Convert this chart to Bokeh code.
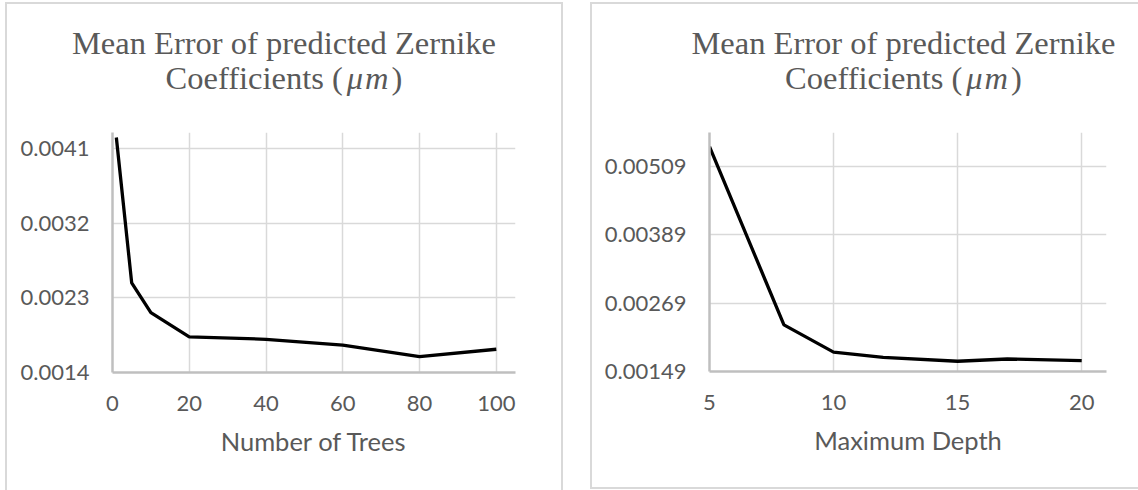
from bokeh.plotting import figure
from bokeh.layouts import row, column
from bokeh.models import FixedTicker, PrintfTickFormatter, Range1d, Div
from bokeh.embed import file_html
from bokeh.resources import INLINE

# ---- data ----
trees_x = [1, 5, 10, 20, 40, 60, 80, 100]
trees_err = [0.00423, 0.00248, 0.00212, 0.00183, 0.00180, 0.00173, 0.00159, 0.00168]
trees_xticks = [0, 20, 40, 60, 80, 100]
trees_yticks = [0.0014, 0.0023, 0.0032, 0.0041]

depth_x = [5, 8, 10, 12, 15, 17, 20]
depth_err = [0.00544, 0.00231, 0.00183, 0.00174, 0.00167, 0.00171, 0.00168]
depth_xticks = [5, 10, 15, 20]
depth_yticks = [0.00149, 0.00269, 0.00389, 0.00509]

title_line1 = "Mean Error of predicted Zernike"
title_line2 = "Coefficients ("
title_unit = "\u03bcm"
title_close = ")"
xlabel_trees = "Number of Trees"
xlabel_depth = "Maximum Depth"

GRAY_TXT = "#595959"
GRID = "#d9d9d9"
AXIS = "#bfbfbf"
SANS = "Lato"
SERIF = "Liberation Serif"
B = "2px solid #d9d9d9"


def title_div(width, height, pad_left):
    html = (
        f'<div style="width:{width}px;height:{height}px;box-sizing:border-box;'
        f'padding-top:22px;padding-left:{pad_left}px;text-align:center;'
        f"font-family:'{SERIF}';font-size:32.5px;line-height:35px;color:{GRAY_TXT};"
        f'white-space:nowrap;">'
        f'{title_line1}<br>{title_line2}'
        f'<i style="letter-spacing:2px;margin:0 1px 0 4px;">{title_unit}</i>{title_close}</div>'
    )
    d = Div(text=html, width=width, height=height)
    d.margin = (0, 0, 0, 0)
    return d


def panel(xs, ys, xr, yr, xticks, yticks, yfmt, xlabel, origin, W, H, frame):
    # frame = (left, right, top, bottom) in page pixels; origin = figure top-left
    ox, oy = origin
    fl, fr, ft, fb = frame
    p = figure(width=W, height=H, output_backend="svg", toolbar_location=None,
               x_range=Range1d(*xr), y_range=Range1d(*yr),
               min_border_left=round(fl - ox), min_border_right=round(ox + W - fr),
               min_border_top=round(ft - oy), min_border_bottom=round(oy + H - fb))
    p.margin = (0, 0, 0, 0)
    p.outline_line_color = None
    p.background_fill_color = "white"
    p.border_fill_color = "white"

    p.xaxis.ticker = FixedTicker(ticks=xticks)
    p.yaxis.ticker = FixedTicker(ticks=yticks)
    p.yaxis.formatter = PrintfTickFormatter(format=yfmt)
    for ax in (p.xaxis, p.yaxis):
        ax.axis_line_color = AXIS
        ax.axis_line_width = 2.5
        ax.major_tick_line_color = None
        ax.minor_tick_line_color = None
        ax.major_tick_out = 0
        ax.major_tick_in = 0
        ax.major_label_text_font = SANS
        ax.major_label_text_font_size = "22px"
        ax.major_label_text_color = GRAY_TXT
    p.xaxis.major_label_standoff = 23
    p.yaxis.major_label_standoff = 23
    p.xaxis.axis_label = xlabel
    p.xaxis.axis_label_text_font = SANS
    p.xaxis.axis_label_text_font_size = "25.5px"
    p.xaxis.axis_label_text_font_style = "normal"
    p.xaxis.axis_label_text_color = GRAY_TXT
    p.xaxis.axis_label_standoff = 12

    p.xgrid.grid_line_color = GRID
    p.xgrid.grid_line_width = 1.5
    p.ygrid.grid_line_color = GRID
    p.ygrid.grid_line_width = 1.5

    p.line(xs, ys, line_color="black", line_width=3.3)
    return p


# left panel: content box starts at (7, 4)
d1 = title_div(554, 118, 0)
p1 = panel(trees_x, trees_err, (0, 105), (0.0014, 0.00429), trees_xticks, trees_yticks,
           "%.4f", xlabel_trees, origin=(7, 122), W=554, H=368,
           frame=(111.6, 515, 132, 372))
c1 = column(d1, p1, spacing=0)
c1.margin = (2, 0, 0, 5)
c1.styles = {"border-left": B, "border-top": B, "border-right": B, "box-sizing": "content-box"}

# right panel: content box starts at (592, 4)
d2 = title_div(546, 118, 77)
p2 = panel(depth_x, depth_err, (5, 21), (0.00149, 0.00569), depth_xticks, depth_yticks,
           "%.5f", xlabel_depth, origin=(592, 122), W=546, H=365,
           frame=(708.8, 1106, 132, 371))
c2 = column(d2, p2, spacing=0)
c2.margin = (2, 0, 0, 27)
c2.styles = {"border-left": B, "border-top": B, "border-bottom": B, "box-sizing": "content-box"}

layout = row(c1, c2, spacing=0)

open("out.html", "w").write(file_html(layout, INLINE))
